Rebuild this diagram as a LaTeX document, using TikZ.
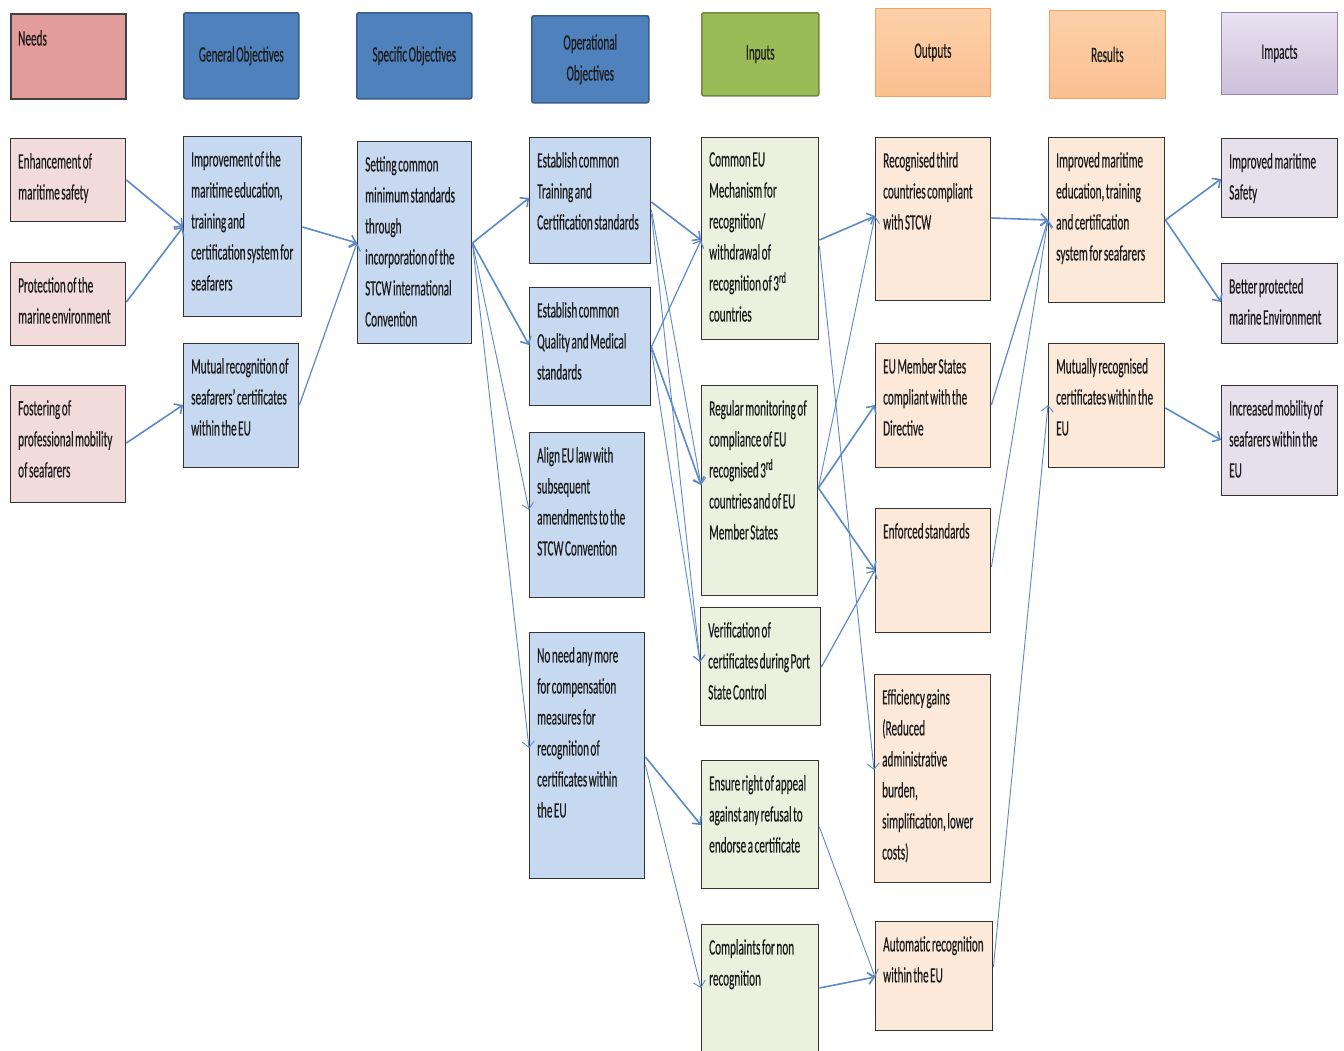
\documentclass[tikz,border=0pt]{standalone}
\usepackage{fontspec}
\setmainfont{Carlito}[FakeStretch=0.51, WordSpace=0.6, FakeBold=0.35]
\usetikzlibrary{arrows.meta}
\definecolor{arrc}{RGB}{92,137,199}
\definecolor{hneed}{RGB}{226,156,153}
\definecolor{hblue}{RGB}{79,129,189}
\definecolor{hblued}{RGB}{56,93,138}
\definecolor{hgreen}{RGB}{155,187,89}
\definecolor{hgreend}{RGB}{113,137,63}
\definecolor{horT}{RGB}{253,208,170}
\definecolor{horB}{RGB}{250,192,144}
\definecolor{hord}{RGB}{245,160,95}
\definecolor{hviT}{RGB}{232,226,240}
\definecolor{hviB}{RGB}{204,192,218}
\definecolor{hvid}{RGB}{150,130,180}
\definecolor{bneed}{RGB}{242,220,219}
\definecolor{bblue}{RGB}{198,217,241}
\definecolor{bgreen}{RGB}{235,241,222}
\definecolor{bor}{RGB}{253,233,217}
\definecolor{bvi}{RGB}{229,224,236}
\definecolor{tcol}{RGB}{28,28,28}
\newcommand\bx[7]{%
  \pgfmathsetmacro\bxw{#4-#2}\pgfmathsetmacro\bxh{#5-#3}%
  \node[#6, anchor=north west, minimum width=\bxw pt, minimum height=\bxh pt] (#1) at (#2,#3) {};
  \node[txt, anchor=north west] (#1t) at (#2+8,#3+15) {#7};
}
\newcommand\hd[7]{%
  \pgfmathsetmacro\bxw{#4-#2}\pgfmathsetmacro\bxh{#5-#3}%
  \node[#6, anchor=north west, minimum width=\bxw pt, minimum height=\bxh pt] (#1) at (#2,#3) {#7};
}
\begin{document}
\begin{tikzpicture}[x=1pt,y=-1pt,
  txt/.style={font=\fontsize{22}{31}\selectfont, align=left, inner sep=0pt, text=tcol},
  hfont/.style={font=\fontsize{22}{31}\selectfont, align=center, inner sep=0pt, text=tcol},
  boxbase/.style={rectangle, inner sep=0pt, draw=black!80, line width=1.4pt},
  bneedbox/.style={boxbase, fill=bneed},
  bbluebox/.style={boxbase, fill=bblue},
  bgreenbox/.style={boxbase, fill=bgreen},
  borbox/.style={boxbase, fill=bor},
  bvibox/.style={boxbase, fill=bvi},
  hneedbox/.style={rectangle, hfont, fill=hneed, draw=black!75, line width=1.5pt},
  hbluebox/.style={rectangle, hfont, fill=hblue, draw=hblued, line width=1.6pt, rounded corners=2pt},
  hgreenbox/.style={rectangle, hfont, fill=hgreen, draw=hgreend, line width=1.6pt, rounded corners=2pt},
  horbox/.style={rectangle, hfont, top color=horT, bottom color=horB, draw=hord, line width=0.8pt},
  hvibox/.style={rectangle, hfont, top color=hviT, bottom color=hviB, draw=hvid, line width=1pt},
  arr/.style={draw=arrc, line width=1.6pt, -{Straight Barb[length=6pt,width=12pt]}},
  tarr/.style={arr, line width=0.9pt},
  marr/.style={arr, line width=1.2pt}]
\useasboundingbox (0,0) rectangle (1344,1050);
\clip (0,0) rectangle (1344,1050);
\fill[white] (0,0) rectangle (1344,1050);

% headers
\hd{h1}{10}{13}{125}{98}{hneedbox}{}
\node[txt, anchor=north west] (h1t) at (18,30) {Needs};
\hd{h2}{183}{12}{298}{98}{hbluebox}{General Objectives}
\hd{h3}{356}{12}{471}{98}{hbluebox}{Specific Objectives}
\hd{h4}{531}{15}{648}{102}{hbluebox}{Operational\\Objectives}
\hd{h5}{701}{12}{818}{95}{hgreenbox}{Inputs}
\hd{h6}{875}{8}{990}{96}{horbox}{Outputs}
\hd{h7}{1049}{10}{1165}{98}{horbox}{Results}
\hd{h8}{1221}{12}{1337}{94}{hvibox}{Impacts}

% needs
\bx{e1}{10}{138}{125}{221}{bneedbox}{Enhancement of\\maritime safety}
\bx{e2}{10}{262}{125}{345}{bneedbox}{Protection of the\\marine environment}
\bx{e3}{10}{385}{125}{502}{bneedbox}{Fostering of\\professional mobility\\of seafarers}
% general objectives
\bx{g1}{183}{136}{301}{316}{bbluebox}{Improvement of the\\maritime education,\\training and\\certification system for\\seafarers}
\bx{g2}{183}{343}{298}{467}{bbluebox}{Mutual recognition of\\seafarers' certificates\\within the EU}
% specific
\bx{s1}{357}{141}{471}{343}{bbluebox}{Setting common\\minimum standards\\through\\incorporation of the\\STCW international\\Convention}
% operational
\bx{o1}{529}{137}{650}{263}{bbluebox}{Establish common\\Training and\\Certification standards}
\bx{o2}{529}{287}{650}{405}{bbluebox}{Establish common\\Quality and Medical\\standards}
\bx{o3}{529}{432}{644}{597}{bbluebox}{Align EU law with\\subsequent\\amendments to the\\STCW Convention}
\bx{o4}{529}{632}{644}{878}{bbluebox}{No need any more\\for compensation\\measures for\\recognition of\\certificates within\\the EU}
% inputs
\bx{i1}{701}{137}{818}{339}{bgreenbox}{Common EU\\Mechanism for\\recognition/\\withdrawal of\\recognition of 3\textsuperscript{rd}\\countries}
\bx{i2}{701}{385}{817}{595}{bgreenbox}{Regular monitoring of\\compliance of EU\\recognised 3\textsuperscript{rd}\\countries and of EU\\Member States}
\bx{i3}{700}{607}{820}{725}{bgreenbox}{Verification of\\certificates during Port\\State Control}
\bx{i4}{701}{760}{818}{888}{bgreenbox}{Ensure right of appeal\\against any refusal to\\endorse a certificate}
\bx{i5}{701}{924}{818}{1060}{bgreenbox}{Complaints for non\\recognition}
% outputs
\bx{p1}{875}{137}{990}{300}{borbox}{Recognised third\\countries compliant\\with STCW}
\bx{p2}{875}{343}{990}{467}{borbox}{EU Member States\\compliant with the\\Directive}
\bx{p3}{875}{508}{990}{632}{borbox}{Enforced standards}
\bx{p4}{874}{674}{990}{882}{borbox}{Efficiency gains\\(Reduced\\administrative\\burden,\\simplification, lower\\costs)}
\bx{p5}{875}{921}{992}{1030}{borbox}{Automatic recognition\\within the EU}
% results
\bx{r1}{1048}{137}{1164}{302}{borbox}{Improved maritime\\education, training\\and certification\\system for seafarers}
\bx{r2}{1048}{343}{1164}{467}{borbox}{Mutually recognised\\certificates within the\\EU}
% impacts
\bx{m1}{1221}{138}{1337}{217}{bvibox}{Improved maritime\\Safety}
\bx{m2}{1221}{263}{1337}{343}{bvibox}{Better protected\\marine Environment}
\bx{m3}{1221}{385}{1337}{495}{bvibox}{Increased mobility of\\seafarers within the\\EU}

% connectors
\draw[arr] (e1.east |- 0,180) -- (g1.west |- 0,227);
\draw[arr] (e2.east |- 0,302) -- (g1.west |- 0,227);
\draw[arr] (e3.east |- 0,443) -- (g2.west |- 0,405);
\draw[arr] (g1.east |- 0,227) -- (s1.west |- 0,243);
\draw[marr] (g2.east |- 0,405) -- (s1.west |- 0,243);
\draw[arr] (s1.east |- 0,243) -- (o1.west |- 0,198);
\draw[arr] (s1.east |- 0,243) -- (o2.west |- 0,345);
\draw[tarr] (s1.east |- 0,243) -- (o3.west |- 0,510);
\draw[tarr] (s1.east |- 0,243) -- (o4.west |- 0,748);
\draw[arr] (o1.east |- 0,202) -- (i1.west |- 0,240);
\draw[tarr] (o1.east |- 0,210) -- (i2.west |- 0,485);
\draw[tarr] (o1.east |- 0,214) -- (i3.west |- 0,662);
\draw[marr] (o2.east |- 0,347) -- (i1.west |- 0,240);
\draw[arr] (o2.east |- 0,347) -- (i2.west |- 0,485);
\draw[tarr] (o2.east |- 0,350) -- (i3.west |- 0,662);
\draw[arr] (o4.east |- 0,757) -- (i4.west |- 0,825);
\draw[tarr] (o4.east |- 0,765) -- (i5.west |- 0,988);
\draw[arr] (i1.east |- 0,240) -- (p1.west |- 0,216);
\draw[tarr] (i1.east |- 0,246) -- (p4.west |- 0,770);
\draw[tarr] (i2.east |- 0,488) -- (p1.west |- 0,216);
\draw[arr] (i2.east |- 0,488) -- (p2.west |- 0,405);
\draw[arr] (i2.east |- 0,488) -- (p3.west |- 0,570);
\draw[marr] (i3.east |- 0,667) -- (p3.west |- 0,570);
\draw[tarr] (i4.east |- 0,827) -- (p5.west |- 0,977);
\draw[arr] (i5.east |- 0,988) -- (p5.west |- 0,977);
\draw[arr] (p1.east |- 0,218) -- (r1.west |- 0,220);
\draw[marr] (p2.east |- 0,405) -- (r1.west |- 0,220);
\draw[tarr] (p3.east |- 0,567) -- (r1.west |- 0,220);
\draw[tarr] (p5.east |- 0,967) -- (r2.west |- 0,405);
\draw[arr] (r1.east |- 0,220) -- (m1.west |- 0,179);
\draw[arr] (r1.east |- 0,220) -- (m2.west |- 0,302);
\draw[arr] (r2.east |- 0,408) -- (m3.west |- 0,440);
\end{tikzpicture}
\end{document}
